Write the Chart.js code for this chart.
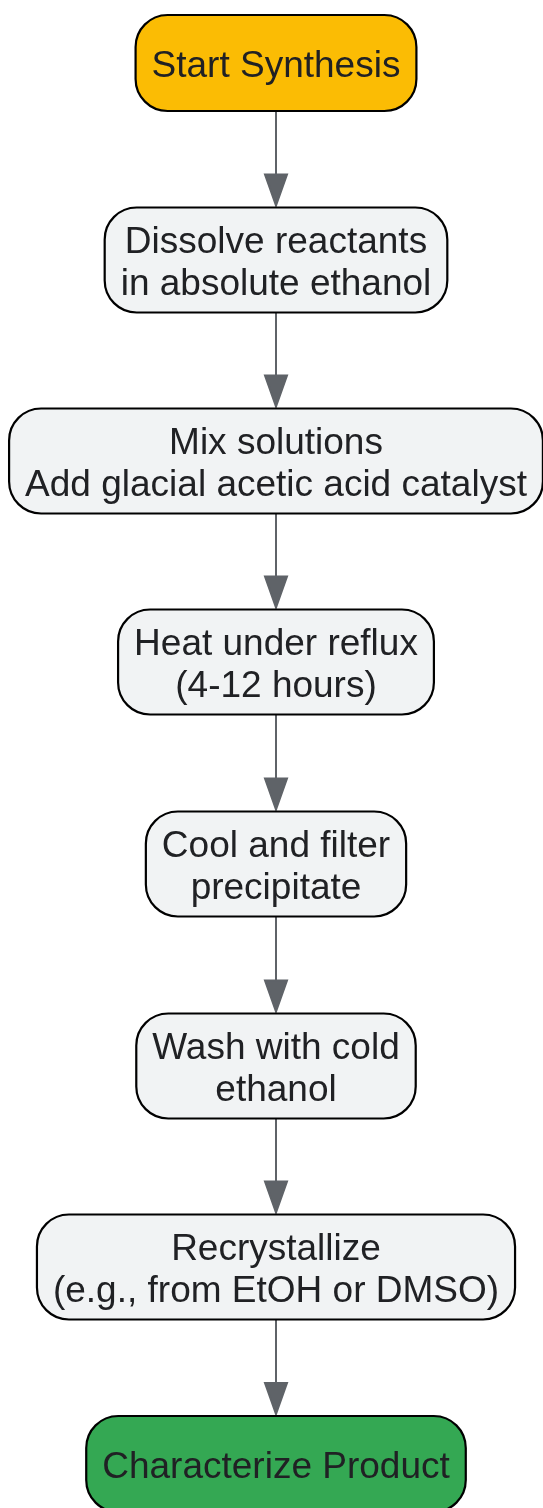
<!DOCTYPE html>
<html>
<head>
<meta charset="utf-8">
<script src="https://cdn.jsdelivr.net/npm/chart.js@4/dist/chart.umd.min.js"></script>
<style>
  html,body{margin:0;padding:0;background:#fff;}
  #wrap{width:543px;height:1508px;}
</style>
</head>
<body>
<div id="wrap"><canvas id="flow" width="543" height="1508"></canvas></div>
<script>
// flowchart steps, top to bottom
const stepLabels = [
  ["Start Synthesis"],
  ["Dissolve reactants","in absolute ethanol"],
  ["Mix solutions","Add glacial acetic acid catalyst"],
  ["Heat under reflux","(4-12 hours)"],
  ["Cool and filter","precipitate"],
  ["Wash with cold","ethanol"],
  ["Recrystallize","(e.g., from EtOH or DMSO)"],
  ["Characterize Product"]
];
const stepY = [63, 260, 461, 662, 864, 1066, 1267, 1464];
const stepX = [276, 276, 276, 276, 276, 276, 276, 276];
const stepKind = ["start","step","step","step","step","step","step","end"];
// edges: from index -> to index
const edgeFrom = [0,1,2,3,4,5,6];
const edgeTo   = [1,2,3,4,5,6,7];

const fills = {start:"#FBBC04", step:"#F1F3F4", end:"#34A853"};
const font = "37px 'Liberation Sans', Arial, sans-serif";
const lineH = 42;

function boxSize(ctx, lines){
  ctx.font = font;
  let w = 0;
  lines.forEach(l=>{ w = Math.max(w, ctx.measureText(l).width); });
  return {w: w+32, h: lines.length>1 ? 105 : 96};
}

function roundRect(ctx,x,y,w,h,r){
  ctx.beginPath();
  ctx.moveTo(x+r,y);
  ctx.lineTo(x+w-r,y);
  ctx.arcTo(x+w,y,x+w,y+r,r);
  ctx.lineTo(x+w,y+h-r);
  ctx.arcTo(x+w,y+h,x+w-r,y+h,r);
  ctx.lineTo(x+r,y+h);
  ctx.arcTo(x,y+h,x,y+h-r,r);
  ctx.lineTo(x,y+r);
  ctx.arcTo(x,y,x+r,y,r);
  ctx.closePath();
}

const flowPlugin = {
  id:"flow",
  afterDatasetsDraw(chart){
    const ctx = chart.ctx;
    const xs = chart.scales.x, ys = chart.scales.y;
    const boxes = stepLabels.map((lines,i)=>{
      const s = boxSize(ctx, lines);
      const cx = xs.getPixelForValue(stepX[i]);
      const cy = ys.getPixelForValue(stepY[i]);
      return {cx, cy, w:s.w, h:s.h};
    });
    ctx.save();
    // edges
    edgeFrom.forEach((f,k)=>{
      const a = boxes[f], b = boxes[edgeTo[k]];
      const y0 = a.cy + a.h/2, y1 = b.cy - b.h/2 - 2;
      ctx.strokeStyle = "#5F6368";
      ctx.fillStyle = "#5F6368";
      ctx.lineWidth = 2;
      ctx.beginPath();
      ctx.moveTo(a.cx, y0);
      ctx.lineTo(b.cx, y1-30);
      ctx.stroke();
      ctx.beginPath();
      ctx.moveTo(b.cx-11, y1-31);
      ctx.lineTo(b.cx+11, y1-31);
      ctx.lineTo(b.cx, y1);
      ctx.closePath();
      ctx.fill();
      ctx.stroke();
    });
    // nodes
    boxes.forEach((b,i)=>{
      roundRect(ctx, b.cx-b.w/2, b.cy-b.h/2, b.w, b.h, 32);
      ctx.fillStyle = fills[stepKind[i]];
      ctx.fill();
      ctx.lineWidth = 2.2;
      ctx.strokeStyle = "#000";
      ctx.stroke();
      ctx.fillStyle = "#202124";
      ctx.font = font;
      ctx.textAlign = "center";
      ctx.textBaseline = "middle";
      const lines = stepLabels[i];
      const top = b.cy - (lines.length-1)*lineH/2;
      lines.forEach((l,j)=>ctx.fillText(l, b.cx, top + j*lineH + 4));
    });
    ctx.restore();
  }
};

new Chart(document.getElementById("flow"),{
  type:"scatter",
  data:{datasets:[{
    data: stepX.map((x,i)=>({x, y:stepY[i]})),
    pointRadius:0, showLine:false
  }]},
  options:{
    responsive:false, animation:false, devicePixelRatio:1,
    layout:{padding:0},
    plugins:{legend:{display:false}, tooltip:{enabled:false}},
    scales:{
      x:{type:"linear", min:0, max:543, display:false},
      y:{type:"linear", min:0, max:1508, reverse:true, display:false}
    }
  },
  plugins:[flowPlugin]
});
</script>
</body>
</html>
